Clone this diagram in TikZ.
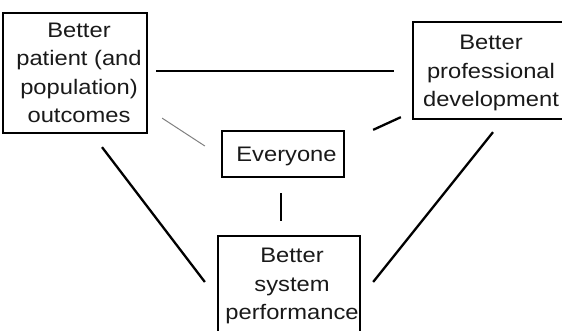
\documentclass[tikz,border=0pt]{standalone}
\usepackage{fontspec}
\setmainfont{Liberation Sans}[FakeStretch=1.13]
\usetikzlibrary{calc}
\begin{document}
\begin{tikzpicture}[x=1pt,y=-1pt,
  box/.style={draw, line width=2.3pt, inner sep=0pt},
  txt/.style={align=center, inner sep=0pt, text=black!90, font=\fontsize{21}{28.5}\selectfont},
  conn/.style={line width=2.3pt},
  thinconn/.style={line width=1pt, black!50}]
\useasboundingbox (0,0) rectangle (562,331);
\clip (0,0) rectangle (562,331);
% boxes
\node[box, minimum width=144pt, minimum height=120pt] (P) at (75,73) {};
\node[box, minimum width=150pt, minimum height=97pt] (D) at (488,70.5) {};
\node[box, minimum width=122pt, minimum height=46pt] (E) at (283,154) {};
\node[box, minimum width=142pt, minimum height=100pt] (S) at (289,286) {};
% texts
\node[txt] (tP) at (79,73) {Better\\patient (and\\population)\\outcomes};
\node[txt] (tD) at (491,73) {Better\\professional\\development};
\node[txt] (tE) at (286.5,156) {Everyone};
\node[txt] (tS) at (292,286) {Better\\system\\performance};
% connectors
\draw[conn] ([shift={(8,-2)}]P.east) -- ([shift={(-18,0.5)}]D.west);
\draw[thinconn] ([shift={(14,-16)}]P.south east) -- ([shift={(-16,-8)}]E.west);
\draw[conn] ([shift={(28,0)}]E.north east) -- ([shift={(-11,-3)}]D.south west);
\draw[conn] ([shift={(-2,15)}]E.south) -- ([shift={(-8,-14)}]S.north);
\draw[conn] ([shift={(27,13)}]P.south) -- ([shift={(-12,-4)}]S.west);
\draw[conn] ([shift={(5,12)}]D.south) -- ([shift={(12,-4)}]S.east);
\end{tikzpicture}
\end{document}
